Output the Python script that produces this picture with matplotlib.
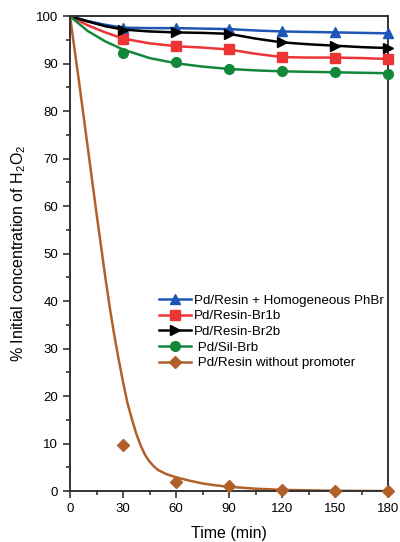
import matplotlib.pyplot as plt
from matplotlib.lines import Line2D
from matplotlib.ticker import MultipleLocator

plt.rcParams['font.family'] = ['Liberation Sans', 'DejaVu Sans']
plt.rcParams['mathtext.default'] = 'regular'

# measured points
t_pts = [30, 60, 90, 120, 150, 180]
blue_pts = [97.6, 97.5, 97.3, 96.8, 96.6, 96.4]
red_pts = [95.3, 93.7, 93.0, 91.4, 91.3, 91.0]
black_pts = [97.2, 96.6, 96.3, 94.5, 93.8, 93.3]
green_pts = [92.2, 90.3, 88.9, 88.5, 88.3, 87.9]
brown_pts = [9.7, 2.0, 1.0, 0.2, 0.1, 0.1]

# curves
t_line = [0, 10, 20, 30, 45, 60, 75, 90, 105, 120, 135, 150, 165, 180]
blue_line = [100, 99.0, 98.2, 97.6, 97.5, 97.5, 97.4, 97.3, 97.0, 96.8, 96.7, 96.6, 96.5, 96.4]
red_line = [100, 98.1, 96.6, 95.3, 94.3, 93.7, 93.4, 93.0, 92.1, 91.4, 91.3, 91.3, 91.2, 91.0]
black_line = [100, 98.9, 97.9, 97.2, 96.8, 96.6, 96.5, 96.3, 95.3, 94.5, 94.1, 93.8, 93.5, 93.3]
green_line = [100, 96.9, 94.7, 93.0, 91.2, 90.1, 89.4, 88.9, 88.6, 88.4, 88.3, 88.2, 88.1, 88.0]

t_brown = [0, 5, 10, 15, 20, 22.5, 25, 27.5, 30, 32.5, 35, 37.5, 40, 42.5, 45, 47.5,
           50, 55, 60, 67.5, 75, 82.5, 90, 105, 120, 150, 180]
brown_line = [100, 86.5, 72.5, 58.5, 45, 38.7, 33, 27.8, 23, 18.6, 15.2, 12.1, 9.6, 7.6,
              6.2, 5.2, 4.4, 3.5, 2.9, 2.2, 1.6, 1.2, 0.9, 0.5, 0.25, 0.05, 0]

labels = ['Pd/Resin + Homogeneous PhBr', 'Pd/Resin-Br1b', 'Pd/Resin-Br2b',
          ' Pd/Sil-Brb', ' Pd/Resin without promoter']
colors = ['#1f56b5', '#ee3535', '#000000', '#14883a', '#b0612a']
markers = ['^', 's', '>', 'o', 'D']

fig = plt.figure(figsize=(4, 5.42), dpi=100)
ax = fig.add_axes([0.175, 0.094, 0.795, 0.876])

lines = [blue_line, red_line, black_line, green_line]
pts = [blue_pts, red_pts, black_pts, green_pts, brown_pts]
for i in range(4):
    ax.plot(t_line, lines[i], color=colors[i], lw=1.8, zorder=2)
ax.plot(t_brown, brown_line, color=colors[4], lw=1.8, zorder=2)
for i in range(5):
    ax.plot(t_pts, pts[i], ls='none', marker=markers[i], color=colors[i],
            ms=7 if markers[i] != 'D' else 6, zorder=3, clip_on=False)

ax.set_xlim(0, 180)
ax.set_ylim(0, 100)
ax.xaxis.set_major_locator(MultipleLocator(30))
ax.xaxis.set_minor_locator(MultipleLocator(15))
ax.yaxis.set_major_locator(MultipleLocator(10))
ax.yaxis.set_minor_locator(MultipleLocator(5))
ax.tick_params(which='both', direction='out', top=False, right=False,
               labelsize=9.5, color='#333333', width=1.2)
ax.tick_params(which='major', length=5)
ax.tick_params(which='minor', length=3)
for s in ax.spines.values():
    s.set_linewidth(1.4)
    s.set_color('#333333')

ax.set_xlabel('Time (min)', fontsize=11.5, labelpad=8)
ax.set_ylabel('% Initial concentration of H$_2$O$_2$', fontsize=11.5, labelpad=6)

handles = [Line2D([], [], color=colors[i], marker=markers[i], lw=1.8,
                  ms=7 if markers[i] != 'D' else 6) for i in range(5)]
ax.legend(handles, labels, loc='center left', bbox_to_anchor=(0.28, 0.335),
          frameon=False, fontsize=9.6, handlelength=2.4, handletextpad=0.25,
          labelspacing=0.25, borderaxespad=0, borderpad=0)

fig.savefig('out.png', dpi=100)
